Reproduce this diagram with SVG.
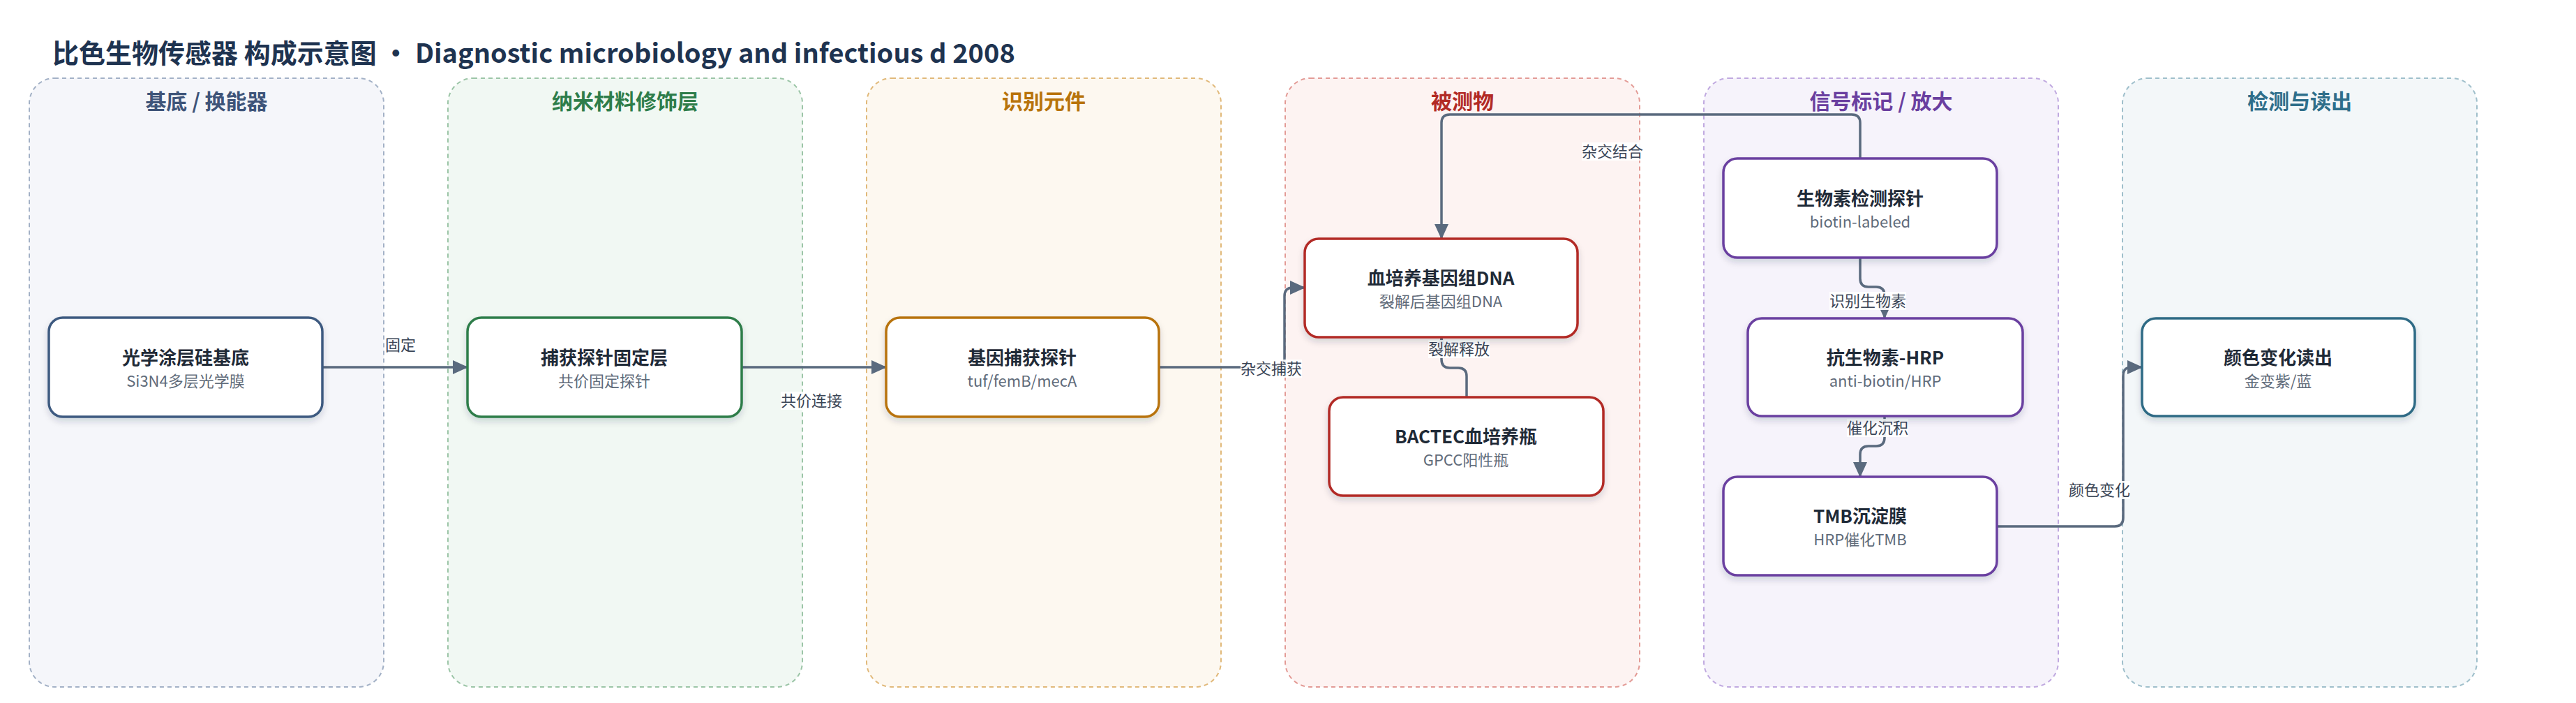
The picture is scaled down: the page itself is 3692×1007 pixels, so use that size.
<svg xmlns="http://www.w3.org/2000/svg" width="3692" height="1007" viewBox="0 0 3692 1007">
<defs>
<style>
text{font-family:"Noto Sans CJK SC","Noto Sans",sans-serif}
.title{font-size:38px;font-weight:700;fill:#1e3350}
.lane{stroke-width:2;stroke-dasharray:6 5}
.lt{font-size:30px;font-weight:700;text-anchor:middle}
.node{fill:#fff;stroke-width:3.5;filter:url(#sh)}
.nt{font-size:26px;font-weight:700;fill:#1f2a37;text-anchor:middle}
.ns{font-size:22px;fill:#5f6b7a;text-anchor:middle}
.edge{fill:none;stroke:#5a6a7e;stroke-width:3.5;marker-end:url(#arr)}
.lb{fill:#fff;fill-opacity:0.9}
.el{font-size:22px;fill:#3a4556;text-anchor:middle}
</style>
<filter id="sh" x="-10%" y="-10%" width="120%" height="130%">
<feDropShadow dx="0" dy="5" stdDeviation="5" flood-color="#1e2a3a" flood-opacity="0.16"/>
</filter>
<marker id="arr" markerUnits="userSpaceOnUse" markerWidth="22" markerHeight="20" viewBox="0 0 22 20" refX="21" refY="10" orient="auto">
<path d="M0,0 L22,10 L0,20 Z" fill="#5a6a7e"/>
</marker>
</defs>
<rect width="3692" height="1007" fill="#fff"/>
<text class="title" x="75" y="90">比色生物传感器 构成示意图 · Diagnostic microbiology and infectious d 2008</text>

<g id="lanes">
<g id="lane-substrate"><rect class="lane" x="42" y="112" width="508" height="872" rx="36" fill="#f5f6fa" stroke="#a3b1c6"/><text class="lt" x="296" y="156" fill="#3e5479">基底 / 换能器</text></g>
<g id="lane-nano"><rect class="lane" x="642" y="112" width="508" height="872" rx="36" fill="#f1f8f3" stroke="#9cc5a7"/><text class="lt" x="896" y="156" fill="#2e7d4a">纳米材料修饰层</text></g>
<g id="lane-recog"><rect class="lane" x="1242" y="112" width="508" height="872" rx="36" fill="#fdf8f0" stroke="#e1b97a"/><text class="lt" x="1496" y="156" fill="#b8730a">识别元件</text></g>
<g id="lane-analyte"><rect class="lane" x="1842" y="112" width="508" height="872" rx="36" fill="#fdf3f2" stroke="#e39b96"/><text class="lt" x="2096" y="156" fill="#b22a25">被测物</text></g>
<g id="lane-signal"><rect class="lane" x="2442" y="112" width="508" height="872" rx="36" fill="#f6f3fb" stroke="#c0a9e0"/><text class="lt" x="2696" y="156" fill="#6a3fa0">信号标记 / 放大</text></g>
<g id="lane-readout"><rect class="lane" x="3042" y="112" width="508" height="872" rx="36" fill="#f3f7f9" stroke="#9fbfcb"/><text class="lt" x="3296" y="156" fill="#2e6e8a">检测与读出</text></g>
</g>

<g id="connectors">
<path class="edge" d="M462,526 H670"/>
<path class="edge" d="M1063,526 H1270"/>
<path class="edge" d="M1661,526 H1829 Q1841,526 1841,514 V424 Q1841,412 1853,412 H1870"/>
<path class="edge" d="M2102,569 V539 Q2102,527 2090,527 H2078 Q2066,527 2066,515 V483"/>
<path class="edge" d="M2666,227 V176 Q2666,164 2654,164 H2078 Q2066,164 2066,176 V342"/>
<path class="edge" d="M2666,369 V399 Q2666,411 2678,411 H2689 Q2701,411 2701,423 V456"/>
<path class="edge" d="M2701,596 V627 Q2701,639 2689,639 H2678 Q2666,639 2666,651 V683"/>
<path class="edge" d="M2862,754 H3031 Q3043,754 3043,742 V538 Q3043,526 3055,526 H3070"/>
<g id="edge-labels">
<rect class="lb" x="551" y="481" width="46" height="26"/><text class="el" x="574" y="502">固定</text>
<rect class="lb" x="1119" y="561" width="88" height="26"/><text class="el" x="1163" y="582">共价连接</text>
<rect class="lb" x="1778" y="515" width="88" height="26"/><text class="el" x="1822" y="536">杂交捕获</text>
<rect class="lb" x="2047" y="487" width="88" height="26"/><text class="el" x="2091" y="508">裂解释放</text>
<rect class="lb" x="2267" y="204" width="88" height="26"/><text class="el" x="2311" y="225">杂交结合</text>
<rect class="lb" x="2622" y="418" width="110" height="26"/><text class="el" x="2677" y="439">识别生物素</text>
<rect class="lb" x="2647" y="600" width="88" height="26"/><text class="el" x="2691" y="621">催化沉积</text>
<rect class="lb" x="2965" y="689" width="88" height="26"/><text class="el" x="3009" y="710">颜色变化</text>
</g>
</g>

<g id="n1"><rect class="node" x="70" y="455" width="392" height="142" rx="20" stroke="#3e5a80"/><text class="nt" x="266" y="522">光学涂层硅基底</text><text class="ns" x="266" y="554">Si3N4多层光学膜</text></g>
<g id="n2"><rect class="node" x="670" y="455" width="393" height="142" rx="20" stroke="#2e7d4a"/><text class="nt" x="866" y="522">捕获探针固定层</text><text class="ns" x="866" y="554">共价固定探针</text></g>
<g id="n3"><rect class="node" x="1270" y="455" width="391" height="142" rx="20" stroke="#b8730a"/><text class="nt" x="1465" y="522">基因捕获探针</text><text class="ns" x="1465" y="554">tuf/femB/mecA</text></g>
<g id="n4"><rect class="node" x="1870" y="342" width="391" height="141" rx="20" stroke="#b22a25"/><text class="nt" x="2065" y="408">血培养基因组DNA</text><text class="ns" x="2065" y="440">裂解后基因组DNA</text></g>
<g id="n5"><rect class="node" x="1905" y="569" width="393" height="141" rx="20" stroke="#b22a25"/><text class="nt" x="2101" y="635">BACTEC血培养瓶</text><text class="ns" x="2101" y="667">GPCC阳性瓶</text></g>
<g id="n6"><rect class="node" x="2470" y="227" width="392" height="142" rx="20" stroke="#6a3fa0"/><text class="nt" x="2666" y="294">生物素检测探针</text><text class="ns" x="2666" y="326">biotin-labeled</text></g>
<g id="n7"><rect class="node" x="2505" y="456" width="394" height="140" rx="20" stroke="#6a3fa0"/><text class="nt" x="2702" y="522">抗生物素-HRP</text><text class="ns" x="2702" y="554">anti-biotin/HRP</text></g>
<g id="n8"><rect class="node" x="2470" y="683" width="392" height="141" rx="20" stroke="#6a3fa0"/><text class="nt" x="2666" y="749">TMB沉淀膜</text><text class="ns" x="2666" y="781">HRP催化TMB</text></g>
<g id="n9"><rect class="node" x="3070" y="456" width="391" height="140" rx="20" stroke="#2e6b85"/><text class="nt" x="3265" y="522">颜色变化读出</text><text class="ns" x="3265" y="554">金变紫/蓝</text></g>
</svg>
